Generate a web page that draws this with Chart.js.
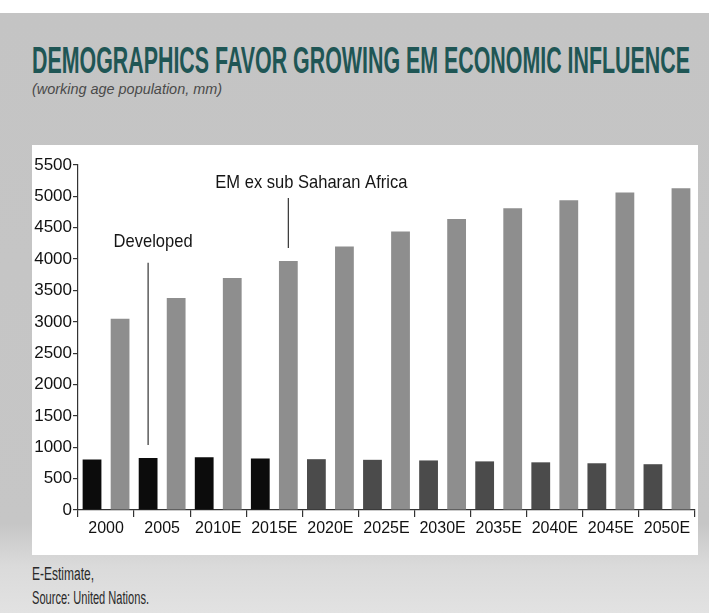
<!DOCTYPE html>
<html>
<head>
<meta charset="utf-8">
<script src="https://cdn.jsdelivr.net/npm/chart.js@4.4.1/dist/chart.umd.min.js"></script>
<style>
  html, body { margin: 0; padding: 0; }
  body {
    width: 709px; height: 613px; position: relative; overflow: hidden;
    background: #fff; font-family: "Liberation Sans", Arial, sans-serif;
  }
  #bg {
    position: absolute; left: 0; top: 13px; width: 709px; height: 600px;
    background: linear-gradient(to bottom, #c4c4c4 0%, #c6c6c6 85%, #dadada 92%, #e2e2e2 100%);
  }
  .fit { position: absolute; white-space: nowrap; transform-origin: 0 0; }
  #title { left: 32px; top: 40px; font-size: 37px; font-weight: bold; color: #1f5655; }
  #subtitle { left: 32px; top: 80px; font-size: 15px; font-style: italic; color: #4a4a4a; }
  #panel {
    position: absolute; left: 32px; top: 145px; width: 666px; height: 410px; background: #fff;
  }
  .foot { left: 32px; font-size: 18px; color: #2a2a2a; }
</style>
</head>
<body>
<div id="bg"></div>
<div id="title" class="fit" data-w="658">DEMOGRAPHICS FAVOR GROWING EM ECONOMIC INFLUENCE</div>
<div id="subtitle" class="fit" data-w="190">(working age population, mm)</div>
<div id="panel"><canvas id="demoChart" width="666" height="410"></canvas></div>
<div class="fit foot" style="top:564px" data-w="62">E-Estimate,</div>
<div class="fit foot" style="top:588px" data-w="117">Source: United Nations.</div>
<script>
const years = ["2000", "2005", "2010E", "2015E", "2020E", "2025E", "2030E", "2035E", "2040E", "2045E", "2050E"];
const developed = [805, 830, 840, 820, 810, 800, 790, 775, 760, 745, 730];
const emExSSA = [3050, 3380, 3700, 3970, 4200, 4440, 4640, 4810, 4940, 5060, 5130];
const yTicks = [0, 500, 1000, 1500, 2000, 2500, 3000, 3500, 4000, 4500, 5000, 5500];

// squeeze the condensed-looking texts to their width in the scan
document.querySelectorAll(".fit").forEach((el) => {
  const w = el.getBoundingClientRect().width;
  el.style.transform = "scaleX(" + (Number(el.dataset.w) / w) + ")";
});

// labels with a pointer line down to a bar
const callouts = [
  { dataset: 0, index: 1, text: "Developed", textValue: 4270, lineTop: 3940, dx: 5 },
  { dataset: 1, index: 3, text: "EM ex sub Saharan Africa", textValue: 5215, lineTop: 4975, dx: 23 },
];

const calloutPlugin = {
  id: "callouts",
  afterDatasetsDraw(chart) {
    const ctx = chart.ctx;
    const y = chart.scales.y;
    ctx.save();
    callouts.forEach((c) => {
      const bar = chart.getDatasetMeta(c.dataset).data[c.index];
      ctx.strokeStyle = "#333";
      ctx.lineWidth = 1.2;
      ctx.beginPath();
      ctx.moveTo(bar.x, y.getPixelForValue(c.lineTop));
      ctx.lineTo(bar.x, bar.y - 13);
      ctx.stroke();
      ctx.fillStyle = "#151515";
      ctx.font = "19px 'Liberation Sans', Arial, sans-serif";
      ctx.textAlign = "center";
      ctx.textBaseline = "middle";
      ctx.save();
      ctx.translate(bar.x + c.dx, y.getPixelForValue(c.textValue));
      ctx.scale(0.87, 1);
      ctx.fillText(c.text, 0, 0);
      ctx.restore();
    });
    ctx.restore();
  },
};

const devColors = years.map((y, i) => (i < 4 ? "#0c0c0c" : "#4b4b4b"));

new Chart(document.getElementById("demoChart").getContext("2d"), {
  type: "bar",
  data: {
    labels: years,
    datasets: [
      { label: "Developed", data: developed, backgroundColor: devColors },
      { label: "EM ex sub Saharan Africa", data: emExSSA, backgroundColor: "#8e8e8e" },
    ],
  },
  options: {
    responsive: false,
    animation: false,
    layout: { padding: { left: 0, top: 20, right: 3, bottom: 0 } },
    datasets: { bar: { categoryPercentage: 1, barPercentage: 0.67 } },
    plugins: { legend: { display: false }, tooltip: { enabled: false } },
    scales: {
      x: {
        grid: { offset: true, drawOnChartArea: false, tickLength: 7, color: "#333", lineWidth: 1.2 },
        border: { color: "#333", width: 1.2 },
        ticks: { color: "#111", font: { size: 16 }, padding: 2 },
        afterFit: (s) => { s.height = 45; },
      },
      y: {
        min: 0,
        max: 5500,
        afterBuildTicks: (s) => { s.ticks = yTicks.map((v) => ({ value: v })); },
        grid: { drawOnChartArea: false, tickLength: 5, color: "#333", lineWidth: 1.2 },
        border: { color: "#333", width: 1.2 },
        ticks: { color: "#111", font: { size: 17 }, padding: 1, callback: (v) => String(v) },
        afterFit: (s) => { s.width = 46; },
      },
    },
  },
  plugins: [calloutPlugin],
});
</script>
</body>
</html>
